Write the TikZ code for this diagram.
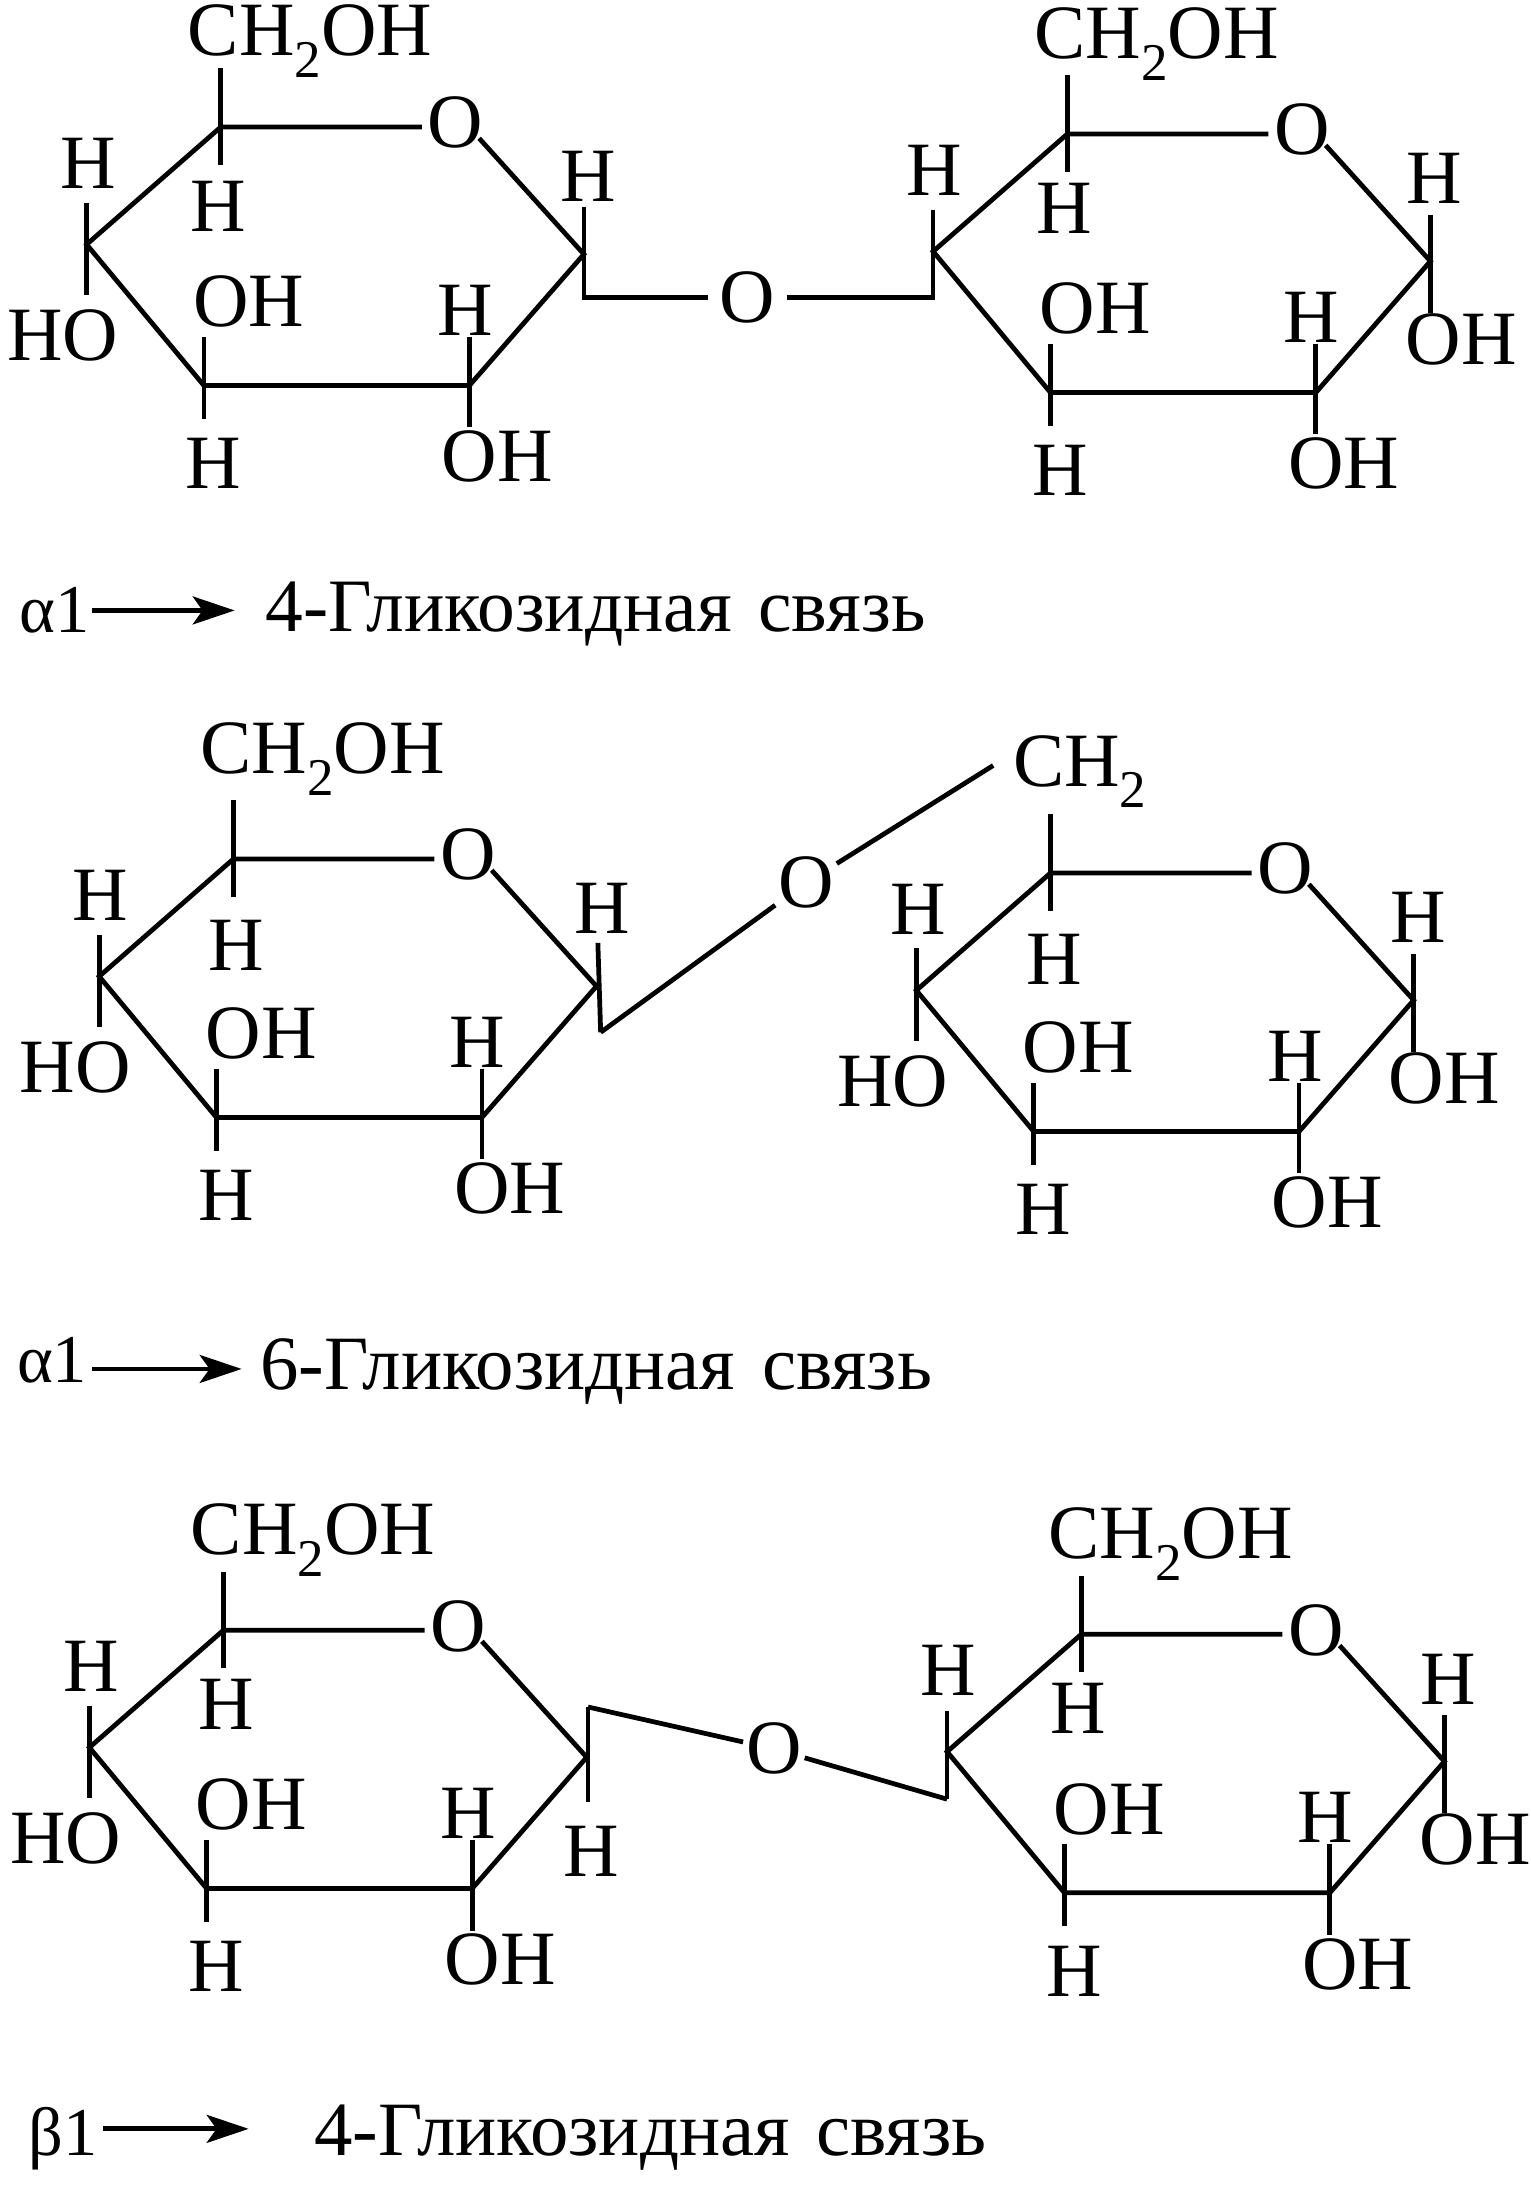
\documentclass[tikz,border=0pt]{standalone}
\usepackage{fontspec}
\setmainfont{Liberation Serif}
\usetikzlibrary{arrows.meta}
\tikzset{
  bond/.style={line width=3.4pt,line cap=butt,line join=miter},
  chem/.style={inner sep=0pt,font=\fontsize{55}{55}\selectfont},
  ringo/.style={chem,inner sep=4pt},
  capt/.style={inner sep=0pt,anchor=base west,font=\fontsize{54}{54}\selectfont},
  captb/.style={capt,font=\fontsize{55}{55}\selectfont},
  capa/.style={inner sep=0pt,anchor=base west,font=\fontsize{49}{49}\selectfont},
  arr/.style={line width=3.4pt,-{Stealth[length=30pt,width=20pt,inset=7pt]}}
}
\newcommand{\subtwo}{\smash{\raisebox{-.28em}{\fontsize{38}{38}\selectfont 2}}}
% #1 prefix, #2 x, #3 y, #4 position of the H below C5 : common part of a sugar ring
\newcommand{\sugar}[4]{%
  \begin{scope}[shift={(#2,#3)}]
    \coordinate (#1c5) at (0,0);
    \coordinate (#1c1) at (260,91);
    \coordinate (#1c1o) at (185,8);
    \coordinate (#1c2) at (178,185);
    \coordinate (#1c3) at (-12,185);
    \coordinate (#1c4) at (-96,84);
    \node[ringo] (#1o) at (168,-3) {O};
    \coordinate (#1c5o) at (#1c5 -| #1o.west);
    \draw[bond] (#1c1o) -- (#1c1) -- (#1c2) -- (#1c3) -- (#1c4) -- (#1c5) -- (#1c5o);
    % substituent stubs
    \coordinate (#1c5u) at (0,-42);
    \coordinate (#1c5d) at (0,27);
    \coordinate (#1c4u) at (-96,54);
    \coordinate (#1c3u) at (-12,150);
    \coordinate (#1c3d) at (-12,209);
    \coordinate (#1c2u) at (178,150);
    \coordinate (#1c2d) at (178,215);
    \draw[bond] (#1c5u) -- (#1c5d);
    \draw[bond] (#1c3u) -- (#1c3d);
    \draw[bond] (#1c2u) -- (#1c2d);
    % labels
    \node[chem] (#1h5) at (#4) {H};
    \node[chem] (#1h4) at (-95,26) {H};
    \node[chem] (#1oh3) at (20,125) {OH};
    \node[chem] (#1h3) at (-5,241) {H};
    \node[chem] (#1h2) at (175,131) {H};
    \node[chem] (#1oh2) at (198,236) {OH};
  \end{scope}}
% C4 has H above and HO below
\newcommand{\hofour}[3]{%
  \begin{scope}[shift={(#2,#3)}]
    \coordinate (#1c4d) at (-96,120);
    \draw[bond] (#1c4u) -- (#1c4d);
    \node[chem] (#1ho) at (-113,149) {HO};
  \end{scope}}
% free C1 with H above and OH below
\newcommand{\freeone}[3]{%
  \begin{scope}[shift={(#2,#3)}]
    \coordinate (#1c1u) at (260,58);
    \coordinate (#1c1d) at (260,128);
    \draw[bond] (#1c1u) -- (#1c1d);
    \node[chem] (#1hf) at (263,32) {H};
    \node[chem] (#1ohf) at (282,147) {OH};
  \end{scope}}
\begin{document}
\begin{tikzpicture}[x=1pt,y=-1pt]
\useasboundingbox (0,0) rectangle (1096,1568.5);
% ---------- first structure
\sugar{a}{158}{91}{-2,57}
\sugar{b}{764}{96}{-2,53}
\hofour{a}{158}{91}
\freeone{b}{764}{96}
\node[chem] (ach) at (222,22) {CH\subtwo OH};
\node[chem] (bch) at (828,24) {CH\subtwo OH};
\node[chem] (ah1) at (421,126) {H};
\node[ringo,inner sep=8pt] (ao) at (535,213) {O};
\coordinate (au) at (418,148);
\coordinate (ae) at (418,213);
\coordinate (be) at (668,213);
\draw[bond] (au) -- (ae) -- (ao) -- (be) -- (bc4u);
% ---------- second structure
\sugar{c}{167}{615}{2,62}
\sugar{d}{752}{625}{3,62}
\hofour{c}{167}{615}
\hofour{d}{752}{625}
\freeone{d}{752}{625}
\node[chem] (cch) at (231,536) {CH\subtwo OH};
\node[chem] (dch) at (773,545) {CH\subtwo};
\node[chem] (ch1) at (431,650) {H};
\node[ringo,inner sep=2pt] (co) at (577,632) {O};
\coordinate (cu) at (428,675);
\coordinate (ce) at (430,739);
\coordinate (cf) at (711,548);
\draw[bond] (cu) -- (ce);
\draw[bond] (ce) -- (co) -- (cf);
% ---------- third structure
\sugar{e}{160}{1167}{2,53}
\sugar{f}{774}{1170}{-2,53}
\hofour{e}{160}{1167}
\freeone{f}{774}{1170}
\node[chem] (ech) at (224,1095) {CH\subtwo OH};
\node[chem] (fch) at (838,1098) {CH\subtwo OH};
\node[chem] (eh1) at (423,1325) {H};
\node[ringo,inner sep=2pt] (eo) at (554,1252) {O};
\coordinate (eu) at (421,1222);
\coordinate (ed) at (421,1290);
\coordinate (fu) at (678,1225);
\coordinate (fd) at (678,1288);
\draw[bond] (eu) -- (ed);
\draw[bond] (fu) -- (fd);
\draw[bond] (eu) -- (eo) -- (fd);
% ---------- captions
\node[capa] (t1a) at (14,453) {α1};
\coordinate (s1) at (66,437);
\coordinate (e1) at (168,437);
\draw[arr] (s1) -- (e1);
\node[capt] (t1) at (190,452) {4-Гликозидная\hspace{.1em} связь};
\node[capa] (t2a) at (12,990) {α1};
\coordinate (s2) at (66,980);
\coordinate (e2) at (173,980);
\draw[arr] (s2) -- (e2);
\node[captb] (t2) at (186,995) {6-Гликозидная\hspace{.1em} связь};
\node[capa] (t3a) at (20,1543) {β1};
\coordinate (s3) at (74,1524);
\coordinate (e3) at (178,1524);
\draw[arr] (s3) -- (e3);
\node[captb] (t3) at (225,1543) {4-Гликозидная\hspace{.1em} связь};
\end{tikzpicture}
\end{document}
